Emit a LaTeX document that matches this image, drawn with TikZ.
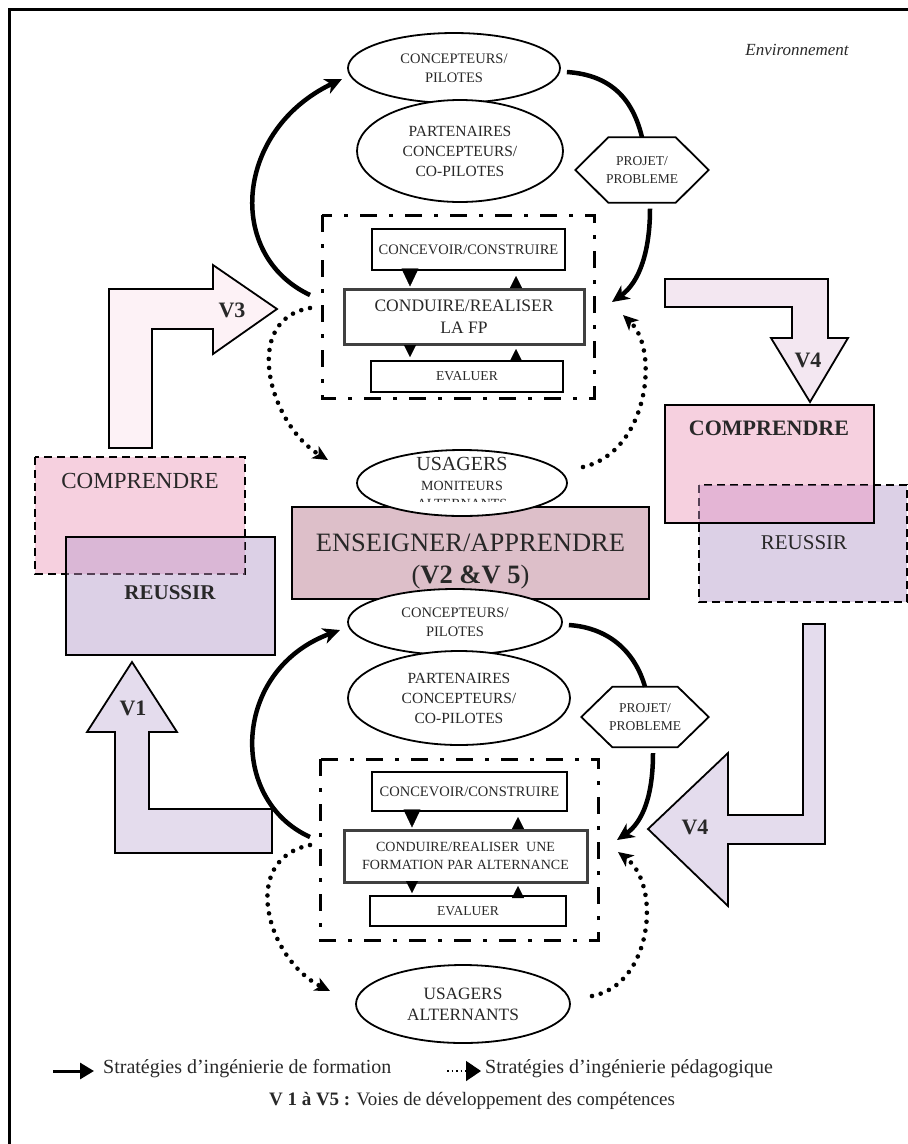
\documentclass[tikz,border=0pt]{standalone}
\usepackage{fontspec}
\setmainfont{Liberation Serif}
\usetikzlibrary{shapes.geometric,arrows.meta,calc}
\definecolor{txt}{RGB}{40,40,40}
\definecolor{ens}{RGB}{221,191,201}
\definecolor{pinkc}{RGB}{246,208,223}
\definecolor{lavc}{RGB}{220,208,230}
\definecolor{ovl}{RGB}{218,183,214}
\definecolor{ovr}{RGB}{228,181,213}
\definecolor{vthree}{RGB}{253,242,246}
\definecolor{vfourup}{RGB}{243,231,241}
\definecolor{vlow}{RGB}{228,220,237}
\definecolor{dgrey}{RGB}{64,64,64}
\definecolor{dashgrey}{RGB}{85,65,85}
\newcommand{\fs}[2]{\fontsize{#1}{#2}\selectfont}
\begin{document}
\begin{tikzpicture}[x=1pt,y=-1pt,
  ell/.style={ellipse, draw, line width=1.8pt, fill=white, inner sep=0pt, align=center, text=txt},
  ibox/.style={rectangle, draw, line width=1.8pt, fill=white, inner sep=0pt, align=center, text=txt},
  mainbox/.style={ibox, draw=dgrey, line width=3pt},
  ddbox/.style={draw, line width=3pt, dash pattern=on 17pt off 12pt on 4pt off 12pt},
  strat/.style={line width=4.5pt, -{Stealth[length=17pt,width=16pt,inset=5pt]}},
  thickline/.style={line width=4.5pt},
  peda/.style={line width=4.6pt, line cap=round, dash pattern=on 0pt off 9pt, -{Stealth[length=15pt,width=14pt,inset=4pt]}},
  tridown/.style={line width=0.4pt, -{Triangle[length=18pt,width=17pt]}},
  trismall/.style={line width=0.4pt, -{Triangle[length=12pt,width=12pt]}},
  blockarrow/.style={draw, line width=1.8pt, line join=miter},
  vlabel/.style={font=\bfseries\fs{22}{24}, text=txt, inner sep=0pt},
  lbl/.style={text=txt, inner sep=0pt, align=center},
  dashedbox/.style={draw, line width=2pt, dash pattern=on 8pt off 5pt},
  solidbox/.style={draw, line width=2pt}
]
\useasboundingbox (0,0) rectangle (908,1144);
\clip (0,0) rectangle (908,1144);
\fill[white] (0,0) rectangle (908,1144);
% frame
\draw[line width=3pt] (9,1170) -- (9,9) -- (930,9);
\node[lbl, font=\itshape\fs{17}{20}] (env) at (797,50) {Environnement};

% ---- block arrows
\draw[blockarrow, fill=vthree] (109,448) -- (109,289) -- (213,289) -- (213,265) -- (277,309) -- (213,354) -- (213,329) -- (152,329) -- (152,448) -- cycle;
\node[vlabel] (v3) at (232,310) {V3};
\draw[blockarrow, fill=vfourup] (665,279) -- (828,279) -- (828,338) -- (848,338) -- (810,402) -- (771,338) -- (792,338) -- (792,307) -- (665,307) -- cycle;
\node[vlabel] (v4a) at (808,360) {V4};
\draw[blockarrow, fill=vlow] (115,853) -- (115,732) -- (87,732) -- (132,662) -- (177,732) -- (149,732) -- (149,809) -- (272,809) -- (272,853) -- cycle;
\node[vlabel] (v1) at (133,708) {V1};
\draw[blockarrow, fill=vlow] (803,624) -- (825,624) -- (825,844) -- (728,844) -- (728,906) -- (648,829) -- (728,753) -- (728,815) -- (803,815) -- cycle;
\node[vlabel] (v4b) at (695,827) {V4};

% ---- left COMPRENDRE / REUSSIR
\fill[pinkc] (35,457) rectangle (245,574);
\fill[lavc] (66,537) rectangle (275,655);
\fill[ovl] (66,537) rectangle (245,574);
\draw[dashedbox] (35,457) rectangle (245,574);
\begin{scope}
\clip (66,537) rectangle (245,576);
\draw[dashedbox, draw=dashgrey] (35,457) rectangle (245,574);
\end{scope}
\draw[solidbox] (66,537) rectangle (275,655);
\node[lbl, font=\fs{23}{25}] (compL) at (140,481) {COMPRENDRE};
\node[lbl, font=\bfseries\fs{21}{23}] (reuL) at (170,593) {REUSSIR};

% ---- right COMPRENDRE / REUSSIR
\fill[lavc] (699,485) rectangle (907,602);
\fill[pinkc] (665,405) rectangle (874,523);
\fill[ovr] (699,485) rectangle (874,523);
\draw[dashedbox] (699,485) rectangle (907,602);
\begin{scope}
\clip (697,485) rectangle (874,523);
\draw[dashedbox, draw=dashgrey] (699,485) rectangle (907,602);
\end{scope}
\draw[solidbox] (665,405) rectangle (874,523);
\node[lbl, font=\bfseries\fs{22}{24}] (compR) at (769,428) {COMPRENDRE};
\node[lbl, font=\fs{21}{23}] (reuR) at (804,543) {REUSSIR};

% ---- ENSEIGNER
\node[draw, line width=2.2pt, fill=ens, minimum width=357pt, minimum height=92pt, inner sep=0pt] (ens) at (470.5,553) {};
\node[lbl, font=\fs{26.5}{32}] (enstxt) at (470.5,562) {ENSEIGNER/APPRENDRE\\(\textbf{V2 \&V 5})};

% ---- upper group
\node[ell, minimum width=212pt, minimum height=70pt, font=\fs{14.5}{19}] (cp1) at (454,68) {CONCEPTEURS/\\PILOTES};
\node[ell, minimum width=206pt, minimum height=102pt, font=\fs{15.5}{20}] (pa1) at (460,151) {PARTENAIRES\\CONCEPTEURS/\\CO-PILOTES};
\node[inner sep=0pt, minimum width=133pt, minimum height=65pt] (hx1) at (642,170) {};
\draw[line width=1.8pt, fill=white, line join=miter] (hx1.west) -- ($(hx1.north west)+(33,0)$) -- ($(hx1.north east)+(-33,0)$) -- (hx1.east) -- ($(hx1.south east)+(-33,0)$) -- ($(hx1.south west)+(33,0)$) -- cycle;
\node[inner sep=0pt, align=center, text=txt, font=\fs{13.5}{18}] at (hx1) {PROJET/\\PROBLEME};

\draw[ddbox] (322,215) rectangle (594,398);
\node[ibox, minimum width=193pt, minimum height=41pt, font=\fs{14.5}{17}] (cc1) at (468.5,249.5) {CONCEVOIR/CONSTRUIRE};
\node[mainbox, minimum width=240pt, minimum height=55pt, font=\fs{17.5}{22}] (cd1) at (464,316.5) {CONDUIRE/REALISER\\LA FP};
\node[ibox, minimum width=192pt, minimum height=31pt, font=\fs{13.6}{16}] (ev1) at (467,376.5) {EVALUER};
\draw[tridown] (cc1.south -| 410,0) -- ($(cd1.north -| 410,0)+(0,-1)$);
\draw[trismall] ($(cd1.north -| 516,0)+(0,-1)$) -- (516,276);
\draw[trismall] ($(cd1.south -| 410,0)+(0,1)$) -- (410,357);
\draw[trismall] ($(ev1.north -| 516,0)+(0,-1)$) -- (516,349);

\node[ell, minimum width=210pt, minimum height=66pt] (us1) at (462,483) {};
\node[lbl, font=\fs{20}{22}] (us1a) at (462,464) {USAGERS};
\node[lbl, font=\fs{14}{16}] (us1b) at (462,486) {MONITEURS};
\begin{scope}
\clip (360,440) rectangle (565,501.5);
\node[lbl, font=\fs{14}{16}] (us1c) at (462,504) {ALTERNANTS};
\end{scope}

% upper connectors
\coordinate (a1s) at (310,295); \coordinate (a1e) at (342,79);
\draw[strat] (a1s) .. controls (225,255) and (235,130) .. (a1e);
\draw[thickline] ($(cp1.east)+(6,4)$) .. controls (612,75) and (633,100) .. (hx1.north);
\coordinate (a2e) at (612,302);
\draw[strat] ($(hx1.south)+(8,6)$) .. controls (650,250) and (640,282) .. (a2e);
\coordinate (d1s) at (310,308); \coordinate (d1e) at (328,460);
\draw[peda] (d1s) .. controls (240,320) and (270,425) .. (d1e);
\coordinate (d2s) at (583,467); \coordinate (d2e) at (623,315);
\draw[peda] (d2s) .. controls (648,452) and (660,350) .. (d2e);

% ---- lower group
\node[ell, minimum width=214pt, minimum height=66pt, font=\fs{14.5}{19}] (cp2) at (455,622) {CONCEPTEURS/\\PILOTES};
\node[ell, minimum width=222pt, minimum height=94pt, font=\fs{15.5}{20}] (pa2) at (459,698) {PARTENAIRES\\CONCEPTEURS/\\CO-PILOTES};
\node[inner sep=0pt, minimum width=127pt, minimum height=60pt] (hx2) at (645,717) {};
\draw[line width=1.8pt, fill=white, line join=miter] (hx2.west) -- ($(hx2.north west)+(31,0)$) -- ($(hx2.north east)+(-31,0)$) -- (hx2.east) -- ($(hx2.south east)+(-31,0)$) -- ($(hx2.south west)+(31,0)$) -- cycle;
\node[inner sep=0pt, align=center, text=txt, font=\fs{13.5}{18}] at (hx2) {PROJET/\\PROBLEME};

\draw[ddbox] (320,759) rectangle (598,940);
\node[ibox, minimum width=195pt, minimum height=39pt, font=\fs{14.5}{17}] (cc2) at (469.5,791.5) {CONCEVOIR/CONSTRUIRE};
\node[mainbox, minimum width=243pt, minimum height=52pt, font=\fs{14}{18}] (cd2) at (465.5,856) {CONDUIRE/REALISER\ \ UNE\\FORMATION PAR ALTERNANCE};
\node[ibox, minimum width=196pt, minimum height=30pt, font=\fs{13.6}{16}] (ev2) at (468,911) {EVALUER};
\draw[tridown] (cc2.south -| 412,0) -- ($(cd2.north -| 412,0)+(0,-1)$);
\draw[trismall] ($(cd2.north -| 518,0)+(0,-1)$) -- (518,817);
\draw[trismall] ($(cd2.south -| 412,0)+(0,1)$) -- (412,893);
\draw[trismall] ($(ev2.north -| 518,0)+(0,-1)$) -- (518,886);

\node[ell, minimum width=214pt, minimum height=78pt, font=\fs{17.3}{21}] (us2) at (463,1004) {USAGERS\\ALTERNANTS};

% lower connectors
\coordinate (b1s) at (310,837); \coordinate (b1e) at (340,630);
\draw[strat] (b1s) .. controls (228,800) and (232,670) .. (b1e);
\draw[thickline] ($(cp2.east)+(6,3)$) .. controls (612,628) and (636,655) .. (hx2.north);
\coordinate (b2e) at (617,840);
\draw[strat] ($(hx2.south)+(8,6)$) .. controls (653,795) and (643,822) .. (b2e);
\coordinate (e1s) at (310,845); \coordinate (e1e) at (330,991);
\draw[peda] (e1s) .. controls (238,860) and (268,960) .. (e1e);
\coordinate (e2s) at (592,996); \coordinate (e2e) at (618,852);
\draw[peda] (e2s) .. controls (652,985) and (662,885) .. (e2e);

% ---- legend
\coordinate (l1a) at (53,1071); \coordinate (l1b) at (94,1071);
\draw[line width=3pt, -{Triangle[length=14pt,width=16pt]}] (l1a) -- (l1b);
\node[lbl, anchor=west, font=\fs{20}{22}] (lt1) at (103,1069) {Stratégies d’ingénierie de formation};
\coordinate (l2a) at (447,1071); \coordinate (l2b) at (481,1071);
\draw[line width=1.5pt, dash pattern=on 1.5pt off 3pt, -{Triangle[length=15pt,width=20pt]}] (l2a) -- (l2b);
\node[lbl, anchor=west, font=\fs{20}{22}] (lt2) at (485,1069) {Stratégies d’ingénierie pédagogique};
\node[lbl, font=\fs{19}{22}] (lt3) at (472,1101) {\textbf{V 1 à V5 :} Voies de développement des compétences};
\end{tikzpicture}
\end{document}
